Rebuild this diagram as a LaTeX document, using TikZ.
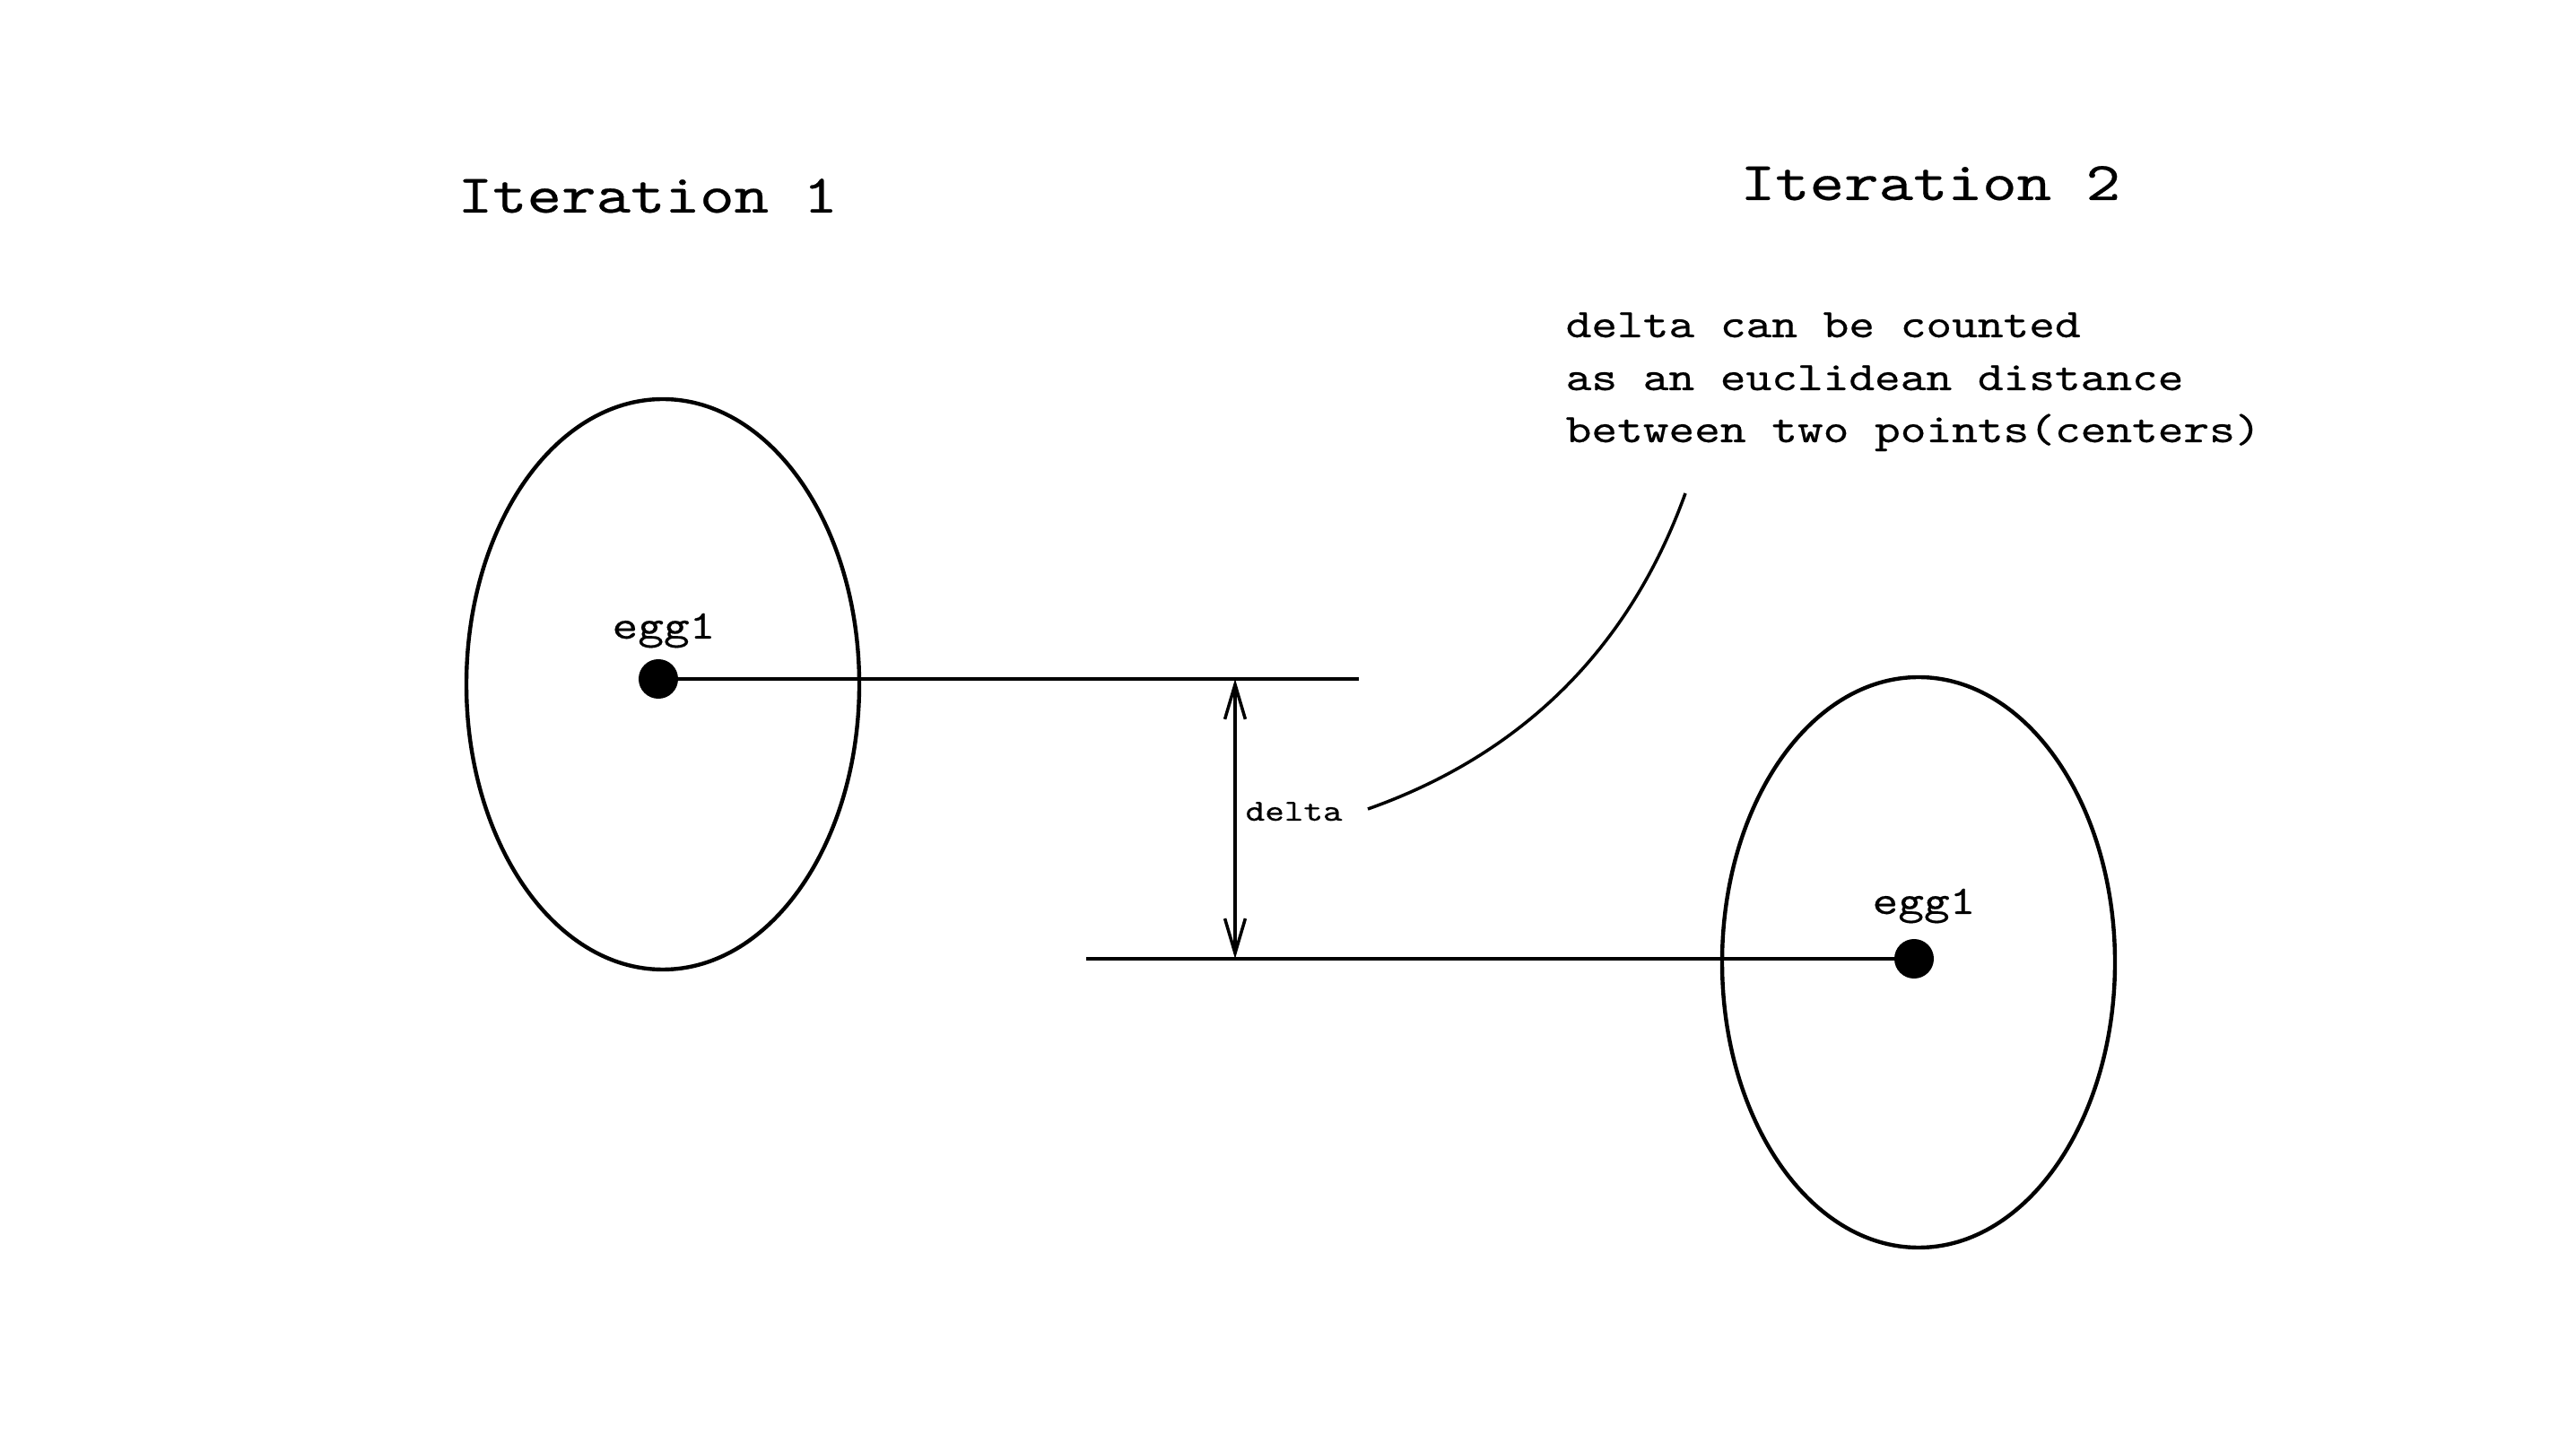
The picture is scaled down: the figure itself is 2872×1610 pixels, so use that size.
\documentclass[tikz,border=0pt]{standalone}
\usepackage{fontspec}
\setmonofont{lmmono10-regular.otf}[FakeBold=0.4, FakeStretch=1.205]
\usetikzlibrary{arrows.meta}
\begin{document}
\begin{tikzpicture}[x=0.01cm,y=-0.01cm,
  title/.style={inner sep=0pt, font=\fontsize{17.3}{20}\selectfont\ttfamily},
  notetext/.style={inner sep=0pt, font=\fontsize{12.9}{16}\selectfont\ttfamily},
  small/.style={inner sep=0pt, font=\fontsize{9.7}{12}\selectfont\ttfamily},
  egg/.style={draw=black, line width=1.25pt},
  thin/.style={draw=black, line width=1pt},
  dotnode/.style={circle, fill=black, inner sep=0pt, minimum size=0.44cm},
  dim/.style={thin, {Straight Barb[length=11pt,width=6.5pt]}-{Straight Barb[length=11pt,width=6.5pt]}}]
\fill[white] (0,0) rectangle (2872,1610);
\useasboundingbox (0,0) rectangle (2872,1610);
% titles
\node[title, anchor=base west] (it1) at (510,237) {Iteration 1};
\node[title, anchor=base west] (it2) at (1940,223) {Iteration 2};
% note
\node[notetext, anchor=base west] (note1) at (1745,376) {delta can be counted};
\node[notetext, anchor=base west] (note2) at (1745,435) {as an euclidean distance};
\node[notetext, anchor=base west] (note3) at (1745,493) {between two points(centers)};
% eggs
\draw[egg] (739,763) ellipse [x radius=219, y radius=318];
\draw[egg] (2139,1073) ellipse [x radius=219, y radius=318];
\node[dotnode] (d1) at (734,757) {};
\node[dotnode] (d2) at (2134,1069) {};
\node[notetext, anchor=base] (e1) at (740,712) {egg1};
\node[notetext, anchor=base] (e2) at (2145,1019) {egg1};
% lines
\coordinate (r1) at (1515,757);
\coordinate (l2) at (1211,1069);
\coordinate (a1) at (1377,757);
\coordinate (a2) at (1377,1069);
\draw[thin] (d1.center) -- (r1);
\draw[thin] (l2) -- (d2.center);
\draw[dim] (a2) -- (a1);
\node[small, anchor=base west] (dl) at (1388,915) {delta};
% pointer curve
\coordinate (c1) at (1525,902);
\coordinate (c2) at (1879,550);
\draw[thin] (c1) .. controls (1695,842) and (1816,725) .. (c2);
\end{tikzpicture}
\end{document}
